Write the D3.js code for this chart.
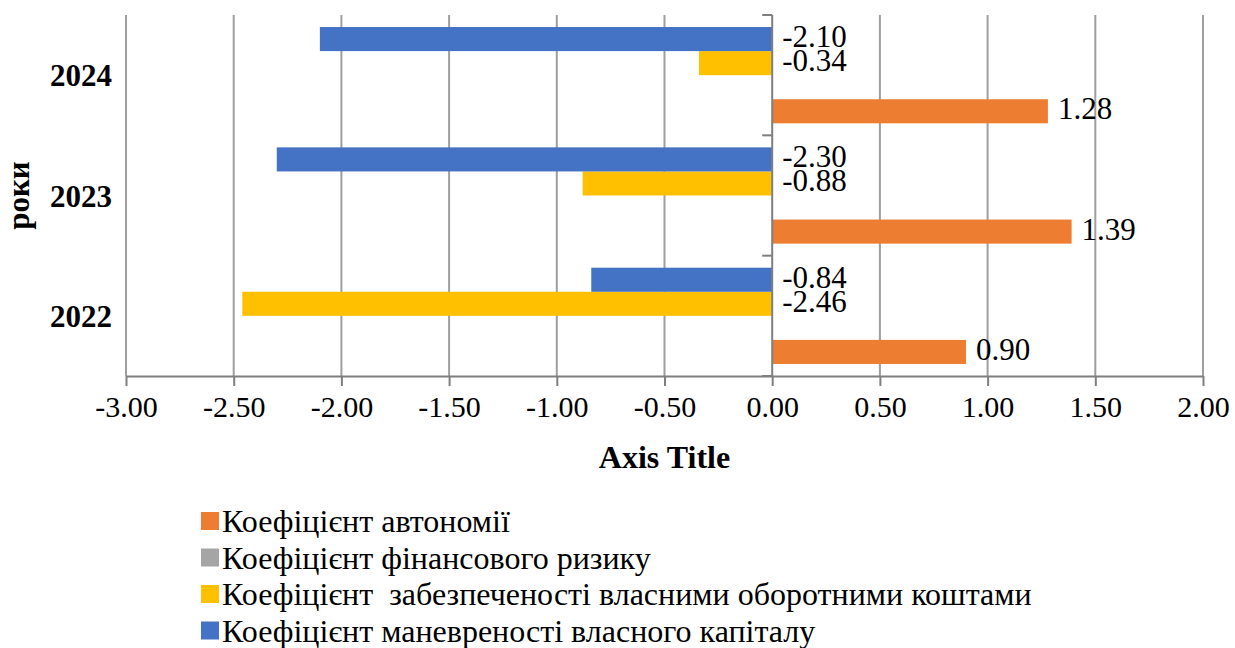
<!DOCTYPE html>
<html>
<head>
<meta charset="utf-8">
<script src="https://cdn.jsdelivr.net/npm/d3@7"></script>
<style>
  body { margin: 0; background: #fff; }
</style>
</head>
<body>
<svg id="chart" width="1235" height="648"></svg>
<script>
// data
var years = ["2024", "2023", "2022"]
var seriesNames = [
    "Коефіцієнт автономії",
    "Коефіцієнт фінансового ризику",
    "Коефіцієнт  забезпеченості власними оборотними коштами",
    "Коефіцієнт маневреності власного капіталу"
]
var seriesColors = ["#ED7D31", "#A5A5A5", "#FFC000", "#4472C4"]
// values per year, order 2024, 2023, 2022
var autonomy = [1.28, 1.39, 0.90]
var finRisk = [null, null, null]
var ownWorking = [-0.34, -0.88, -2.46]
var maneuver = [-2.10, -2.30, -0.84]
var xTicks = [-3, -2.5, -2, -1.5, -1, -0.5, 0, 0.5, 1, 1.5, 2]

var allSeries = [autonomy, finRisk, ownWorking, maneuver]

var serif = "Liberation Serif"
var svg = d3.select("#chart").attr("font-family", serif)
var plotL = 126, plotR = 1203, plotT = 15, plotB = 376
var fmt = d3.formatLocale({decimal: ".", thousands: ",", grouping: [3], currency: ["", ""], minus: "-"}).format(".2f")

var x = d3.scaleLinear().domain([-3, 2]).range([plotL, plotR])
var y = d3.scaleBand().domain(years).range([plotT, plotB])
// inside each year: blue on top, orange at bottom
var inner = d3.scaleBand().domain([3, 2, 1, 0]).range([0, y.bandwidth()]).paddingInner(0).paddingOuter(0.5)

// gridlines
svg.append("g").selectAll("line").data(xTicks.filter(function(d) { return d != 0 }))
    .enter().append("line")
    .attr("x1", function(d) { return x(d) }).attr("x2", function(d) { return x(d) })
    .attr("y1", plotT).attr("y2", plotB)
    .attr("stroke", "#9f9f9f").attr("stroke-width", 2)

// bars
allSeries.forEach(function(vals, si) {
    var g = svg.append("g")
    years.forEach(function(yr, i) {
        var v = vals[i]
        if (v == null) return
        g.append("rect")
            .attr("x", Math.min(x(0), x(v)))
            .attr("y", y(yr) + inner(si))
            .attr("width", Math.abs(x(v) - x(0)))
            .attr("height", inner.bandwidth())
            .attr("fill", seriesColors[si])
    })
})

// x axis
var xAxis = svg.append("g").attr("transform", "translate(0," + plotB + ")")
    .call(d3.axisBottom(x).tickValues(xTicks).tickSize(10).tickSizeOuter(0).tickPadding(10).tickFormat(fmt))
xAxis.attr("font-family", serif)
xAxis.select(".domain").attr("stroke", "#7f7f7f").attr("stroke-width", 2)
xAxis.selectAll(".tick line").attr("stroke", "#7f7f7f").attr("stroke-width", 2)
xAxis.selectAll(".tick text").attr("font-family", serif).attr("font-size", 30).attr("fill", "#000")

// vertical category axis at zero
var yAxis = svg.append("g")
yAxis.append("line").attr("x1", x(0)).attr("x2", x(0)).attr("y1", plotT).attr("y2", plotB)
    .attr("stroke", "#7f7f7f").attr("stroke-width", 2)
var bounds = years.map(function(d) { return y(d) }).concat([plotB])
yAxis.selectAll(".ytick").data(bounds).enter().append("line")
    .attr("x1", x(0) - 10).attr("x2", x(0))
    .attr("y1", function(d) { return d }).attr("y2", function(d) { return d })
    .attr("stroke", "#7f7f7f").attr("stroke-width", 2)

// year labels
svg.append("g").selectAll("text").data(years).enter().append("text")
    .attr("x", 112).attr("y", function(d) { return y(d) + y.bandwidth() / 2 + 11 })
    .attr("text-anchor", "end").attr("font-family", serif).attr("font-size", 31).attr("font-weight", "bold")
    .text(function(d) { return d })

// data labels
allSeries.forEach(function(vals, si) {
    years.forEach(function(yr, i) {
        var v = vals[i]
        if (v == null) return
        var lx = v >= 0 ? x(v) + 10 : x(0) + 10
        svg.append("text")
            .attr("x", lx)
            .attr("y", y(yr) + inner(si) + inner.bandwidth() / 2 + 8)
            .attr("font-family", serif).attr("font-size", 31)
            .text(fmt(v))
    })
})

// axis titles
svg.append("text").attr("x", (plotL + plotR) / 2).attr("y", 468)
    .attr("text-anchor", "middle").attr("font-family", serif).attr("font-size", 32).attr("font-weight", "bold")
    .text("Axis Title")
svg.append("text").attr("transform", "translate(29," + ((plotT + plotB) / 2) + ") rotate(-90)")
    .attr("text-anchor", "middle").attr("font-family", serif).attr("font-size", 31).attr("font-weight", "bold")
    .text("роки")

// legend
var legend = svg.append("g").attr("transform", "translate(201,512)")
seriesNames.forEach(function(name, i) {
    var row = legend.append("g").attr("transform", "translate(0," + (i * 36.5) + ")")
    row.append("rect").attr("width", 18).attr("height", 18).attr("fill", seriesColors[i])
    row.append("text").attr("x", 21).attr("y", 20).attr("font-family", serif).attr("font-size", 32)
        .style("white-space", "pre").text(name)
})
</script>
</body>
</html>
